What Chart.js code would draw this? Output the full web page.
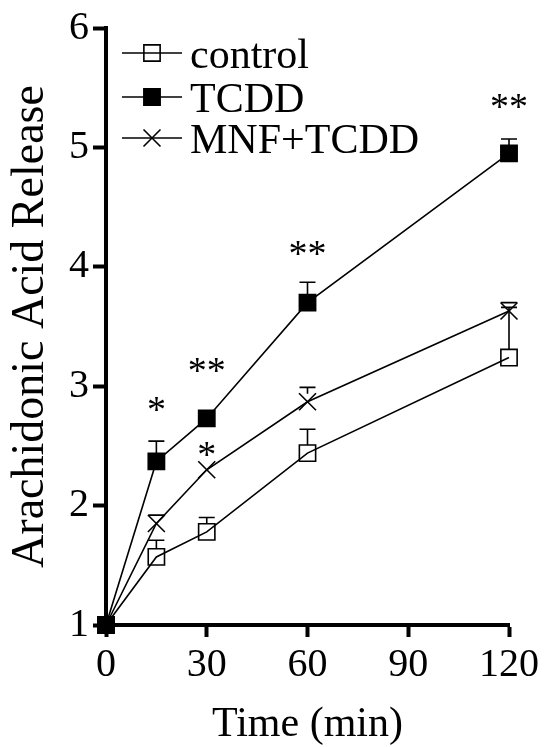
<!DOCTYPE html>
<html>
<head>
<meta charset="utf-8">
<script src="https://cdn.jsdelivr.net/npm/chart.js@4.4.1/dist/chart.umd.min.js"></script>
<style>
  html, body { margin: 0; padding: 0; background: #fff; }
</style>
</head>
<body>
<canvas id="chart1" width="545" height="747"></canvas>
<script>
// data
const times = [0, 15, 30, 60, 120];
const seriesNames = ['control', 'TCDD', 'MNF+TCDD'];
const controlVals = [1, 1.57, 1.78, 2.44, 3.24];
const controlErr  = [0, 0.14, 0.12, 0.20, 0.42];
const tcddVals    = [1, 2.37, 2.73, 3.70, 4.95];
const tcddErr     = [0, 0.17, 0.03, 0.17, 0.12];
const mnfVals     = [1, 1.85, 2.30, 2.87, 3.63];
const mnfErr      = [0, 0.07, 0.03, 0.12, 0.07];
const xTicks = [0, 30, 60, 90, 120];
const yTicks = [1, 2, 3, 4, 5, 6];

// significance marks
const starX    = [15, 30, 30, 60, 120];
const starY    = [2.85, 3.18, 2.47, 4.16, 5.39];
const starText = ['*', '**', '*', '**', '**'];

const FONT = '"Liberation Serif", "Times New Roman", serif';

function toPoints(vals) {
  return times.map((t, i) => ({ x: t, y: vals[i] }));
}

// vertical error bars (upward only, as in the original)
const errorBars = {
  id: 'errorBars',
  afterDatasetsDraw(chart) {
    const ctx = chart.ctx;
    const ys = chart.scales.y;
    ctx.save();
    ctx.strokeStyle = '#000';
    ctx.lineWidth = 1.6;
    chart.data.datasets.forEach((ds, di) => {
      const meta = chart.getDatasetMeta(di);
      meta.data.forEach((pt, i) => {
        const e = ds.errors[i];
        if (!e) return;
        const yTop = ys.getPixelForValue(ds.data[i].y + e);
        const yStart = pt.y - 8;
        if (yTop >= yStart) return;
        ctx.beginPath();
        ctx.moveTo(pt.x, yStart);
        ctx.lineTo(pt.x, yTop);
        ctx.moveTo(pt.x - 8, yTop);
        ctx.lineTo(pt.x + 8, yTop);
        ctx.stroke();
      });
    });
    ctx.restore();
  }
};

// asterisks and the legend inside the plot
const marks = {
  id: 'marks',
  afterDraw(chart) {
    const ctx = chart.ctx;
    const xs = chart.scales.x, ys = chart.scales.y;
    ctx.save();
    ctx.fillStyle = '#000';
    ctx.font = '38px ' + FONT;
    ctx.textAlign = 'center';
    ctx.textBaseline = 'alphabetic';
    starText.forEach((s, i) => {
      const px = xs.getPixelForValue(starX[i]);
      const py = ys.getPixelForValue(starY[i]);
      ctx.fillText(s, px, py + 18);
    });

    // legend, in the original order
    const rowY = [53, 97, 138];
    seriesNames.forEach((name, i) => {
      const ds = chart.data.datasets.find(d => d.label === name);
      const y = rowY[i];
      ctx.strokeStyle = '#000';
      ctx.lineWidth = 1.6;
      ctx.beginPath();
      ctx.moveTo(122, y);
      ctx.lineTo(182, y);
      ctx.stroke();
      ctx.fillStyle = ds.pointBackgroundColor;
      Chart.helpers.drawPoint(ctx, {
        pointStyle: ds.pointStyle,
        radius: ds.pointRadius,
        borderWidth: ds.pointBorderWidth
      }, 152, y);
      ctx.fillStyle = '#000';
      ctx.font = '42px ' + FONT;
      ctx.textAlign = 'left';
      ctx.fillText(name, 190, y + 15);
    });
    ctx.restore();
  }
};

const lineStyle = {
  borderColor: '#000',
  borderWidth: 1.6,
  pointBorderColor: '#000',
  pointBorderWidth: 1.6,
  clip: false,
  tension: 0
};

new Chart(document.getElementById('chart1').getContext('2d'), {
  type: 'line',
  data: {
    // TCDD first so its filled square sits on top at t = 0
    datasets: [
      Object.assign({ label: seriesNames[1], data: toPoints(tcddVals), errors: tcddErr,
        pointStyle: 'rect', pointRadius: 11.5, pointBackgroundColor: '#000' }, lineStyle),
      Object.assign({ label: seriesNames[0], data: toPoints(controlVals), errors: controlErr,
        pointStyle: 'rect', pointRadius: 11.5, pointBackgroundColor: 'rgba(0,0,0,0)' }, lineStyle),
      Object.assign({ label: seriesNames[2], data: toPoints(mnfVals), errors: mnfErr,
        pointStyle: 'crossRot', pointRadius: 12, pointBackgroundColor: 'rgba(0,0,0,0)' }, lineStyle)
    ]
  },
  options: {
    responsive: false,
    animation: false,
    layout: { padding: { top: 23, right: 36, left: 0, bottom: 0 } },
    plugins: { legend: { display: false }, tooltip: { enabled: false } },
    scales: {
      x: {
        type: 'linear',
        min: 0, max: 120,
        afterBuildTicks: s => { s.ticks = xTicks.map(v => ({ value: v })); },
        afterFit: s => { s.height = 122; },
        border: { color: '#000', width: 4 },
        grid: { drawOnChartArea: false, drawTicks: true, tickLength: 12, tickWidth: 4, tickColor: '#000' },
        ticks: { color: '#000', font: { family: FONT, size: 40 }, padding: 4, maxRotation: 0 },
        title: { display: true, text: 'Time (min)', color: '#000',
          font: { family: FONT, size: 42 }, padding: { top: 0, bottom: -3 } }
      },
      y: {
        type: 'linear',
        min: 1, max: 6,
        afterBuildTicks: s => { s.ticks = yTicks.map(v => ({ value: v })); },
        afterFit: s => { s.width = 106; },
        border: { color: '#000', width: 4 },
        grid: { drawOnChartArea: false, drawTicks: true, tickLength: 13, tickWidth: 4, tickColor: '#000' },
        ticks: { color: '#000', font: { family: FONT, size: 40 }, padding: 4 },
        title: { display: true, text: 'Arachidonic Acid Release', color: '#000',
          font: { family: FONT, size: 46 }, padding: { top: 3, bottom: 0 } }
      }
    }
  },
  plugins: [errorBars, marks]
});
</script>
</body>
</html>
